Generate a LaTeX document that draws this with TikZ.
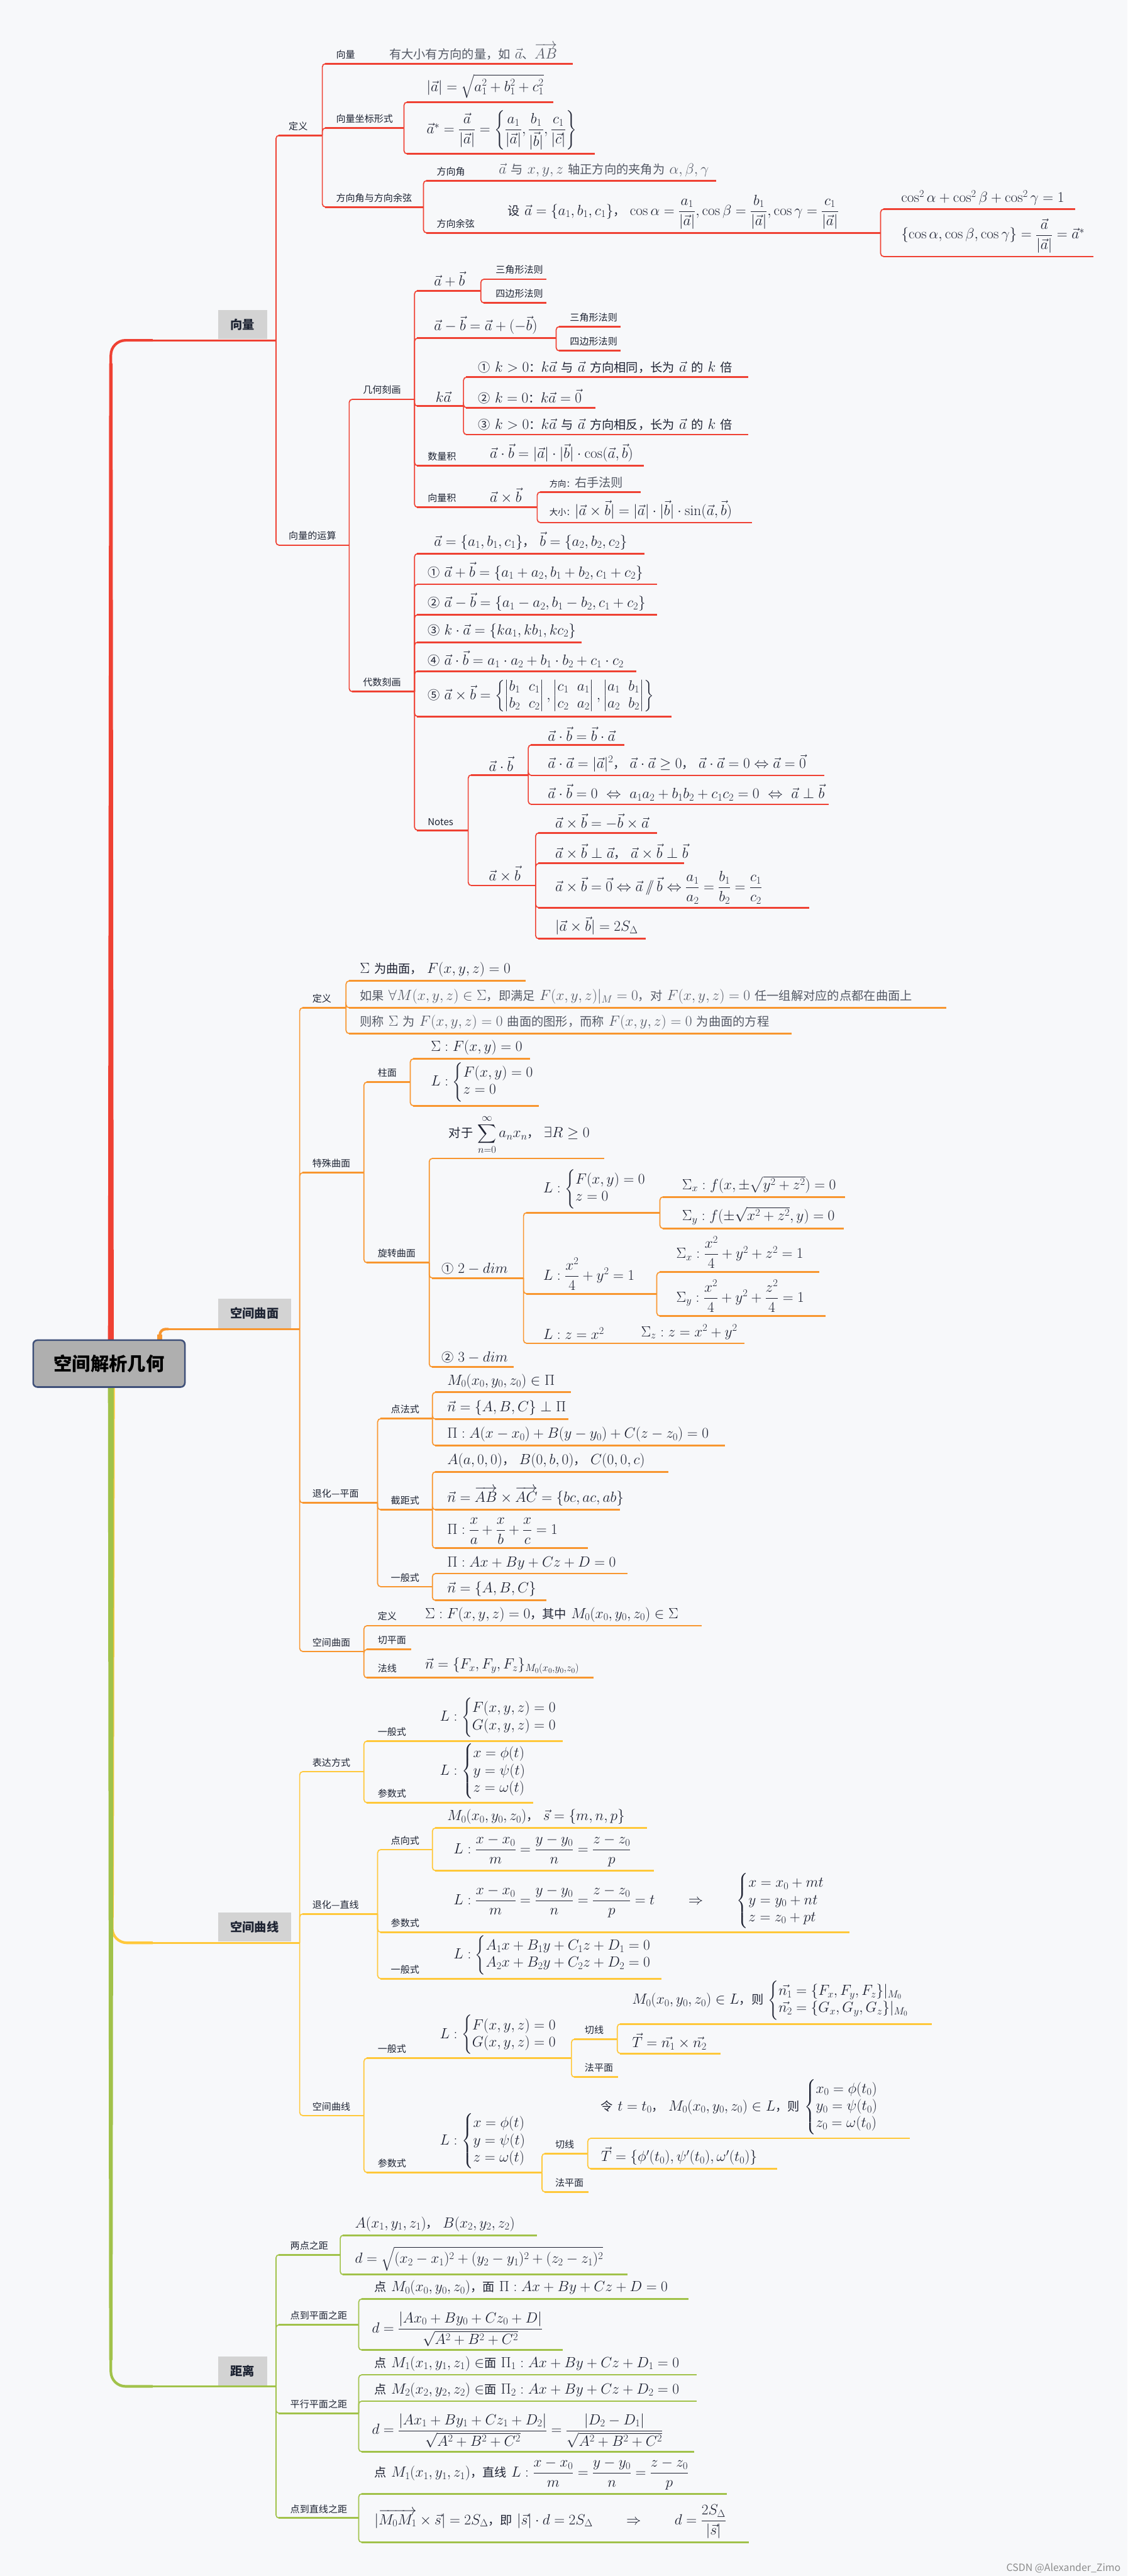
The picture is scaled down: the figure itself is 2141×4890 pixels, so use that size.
\RequirePackage{fix-cm}
\documentclass[tikz,border=0pt]{standalone}
\usepackage{amsmath}
\usepackage{fontspec}
\newfontfamily\cjk{Noto Sans CJK SC}
\definecolor{bg}{HTML}{F7F8FA}
\definecolor{cR}{HTML}{EF4133}
\definecolor{cO}{HTML}{F8962F}
\definecolor{cY}{HTML}{FFC83A}
\definecolor{cG}{HTML}{A1C24A}
\definecolor{boxg}{HTML}{D3D3D3}
\definecolor{rootg}{HTML}{AFAFAF}
\definecolor{rootb}{HTML}{3F5079}
\definecolor{labc}{HTML}{1E2433}
\definecolor{txtc}{HTML}{1F2333}
\definecolor{gtxt}{HTML}{555A66}
\colorlet{brc}{cR}
\newcommand\zh[1]{{\cjk\fontsize{23}{28}\selectfont #1}}
\newcommand\zs[1]{{\cjk\fontsize{16}{20}\selectfont #1}}
\tikzset{
  bus/.style={line width=2pt, draw=brc, rounded corners=6pt},
  ul/.style={line width=3.4pt, draw=brc},
  lab/.style={inner sep=0pt, font=\cjk\fontsize{18}{22}\selectfont, text=labc},
  txt/.style={inner sep=0pt, font=\fontsize{28}{27}\selectfont, text=txtc},
  txtg/.style={txt, text=gtxt},
  mbox/.style={fill=boxg, inner sep=0pt, font=\cjk\bfseries\fontsize{23}{28}\selectfont, text=labc},
  rootbox/.style={fill=rootg, draw=rootb, line width=3pt, rounded corners=8pt, inner sep=0pt,
     minimum width=288pt, minimum height=89pt, font=\cjk\bfseries\fontsize{35}{40}\selectfont, text=black},
  mainl/.style={line width=3.6pt},
}
\newcommand\IT[5]{\coordinate (#1) at (#5,#4);\draw[bus] (#2) |- (#3+8,#4);\draw[ul] (#3+5,#4) -- (#1);}
\newcommand\LB[4]{\node[lab,anchor=south west] (#1) at (#2,#3-9) {#4};}
\newcommand\TX[4]{\node[txt,anchor=south west] (#1) at (#2,#3-7) {#4};}
\newcommand\TXg[4]{\node[txtg,anchor=south west] (#1) at (#2,#3-7) {#4};}
% tapered vertical: color, x, y1, w1, y2, w2
\newcommand\TAPER[6]{\fill[#1] (#2-#4/2,#3) -- (#2+#4/2,#3) -- (#2+#6/2,#5) -- (#2-#6/2,#5) -- cycle;}
\begin{document}
\begin{tikzpicture}[x=1pt,y=-1pt]
\fill[bg] (0,0) rectangle (2141,4890);
\useasboundingbox (0,0) rectangle (2141,4890);
\coordinate (rc) at (207,2588.5);
\coordinate (v) at (524,646);
\coordinate (s) at (569,2523);
\coordinate (c) at (569,3688);
\coordinate (j) at (524,4530);
% trunks
\TAPER{cR}{210.5}{2550}{11}{690}{6.5}
\draw[line width=5pt,draw=cR,rounded corners=28pt] (210.5,700) |- (290,646);
\draw[mainl,draw=cR] (285,646) -- (v);
\TAPER{cY}{213}{2630}{10}{3640}{6}
\draw[line width=5pt,draw=cY,rounded corners=28pt] (213,3630) |- (290,3688);
\draw[mainl,draw=cY] (285,3688) -- (c);
\TAPER{cG}{210.5}{2630}{11}{4480}{6.5}
\draw[line width=5pt,draw=cG,rounded corners=28pt] (210.5,4470) |- (290,4530);
\draw[mainl,draw=cG] (285,4530) -- (j);
\draw[line width=10pt,draw=cO] (303.5,2548) -- (303.5,2533);
\draw[line width=5pt,draw=cO,rounded corners=11pt] (303.5,2536) |- (320,2523);
\draw[mainl,draw=cO] (318,2523) -- (s);
\node[rootbox] (root) at (rc) {空间解析几何};

% ================= 向量 =================
\begin{scope}
\colorlet{brc}{cR}
\node[mbox, minimum width=93pt, minimum height=55pt, anchor=south west] (vb) at (414,644) {向量};
\IT{d1}{v}{524}{257}{612}\LB{d1t}{548}{257}{定义}
\IT{d1a}{d1}{612}{121}{1087}\LB{d1at}{638}{121}{向量}
\TXg{d1ac}{739}{121}{\zh{有大小有方向的量，如} $\vec a$\zh{、}$\overrightarrow{AB}$}
\IT{d1b}{d1}{612}{243}{767}\LB{d1bt}{638}{243}{向量坐标形式}
\IT{d1b1}{d1b}{767}{194}{1050}\TX{d1b1t}{810}{194}{$|\vec a|=\sqrt{a_1^2+b_1^2+c_1^2}$}
\IT{d1b2}{d1b}{767}{292}{1129}\TX{d1b2t}{810}{292}{$\vec a^{*}=\dfrac{\vec a}{|\vec a|}=\left\{\dfrac{a_1}{|\vec a|},\dfrac{b_1}{|\vec b|},\dfrac{c_1}{|\vec c|}\right\}$}
\IT{d1c}{d1}{612}{393}{804}\LB{d1ct}{638}{393}{方向角与方向余弦}
\IT{d1c1}{d1c}{804}{343}{1360}\LB{d1c1t}{829}{343}{方向角}
\TXg{d1c1c}{947}{343}{$\vec a$ \zh{与} $x,y,z$ \zh{轴正方向的夹角为} $\alpha,\beta,\gamma$}
\IT{d1c2}{d1c}{804}{442}{1672}\LB{d1c2t}{829}{442}{方向余弦}
\TX{d1c2c}{964}{442}{\zh{设} $\vec a=\{a_1,b_1,c_1\}$\zh{，} $\cos\alpha=\dfrac{a_1}{|\vec a|},\cos\beta=\dfrac{b_1}{|\vec a|},\cos\gamma=\dfrac{c_1}{|\vec a|}$}
\IT{d1c2a}{d1c2}{1672}{397}{2042}\TX{d1c2at}{1711}{397}{$\cos^2\alpha+\cos^2\beta+\cos^2\gamma=1$}
\IT{d1c2b}{d1c2}{1672}{487}{2076}\TX{d1c2bt}{1711}{487}{$\{\cos\alpha,\cos\beta,\cos\gamma\}=\dfrac{\vec a}{|\vec a|}=\vec a^{*}$}
\IT{d2}{v}{524}{1035}{663}\LB{d2t}{548}{1035}{向量的运算}
\IT{g}{d2}{663}{758}{787}\LB{gt}{689}{758}{几何刻画}
\IT{g1}{g}{787}{552}{913}\TX{g1t}{824}{552}{$\vec a+\vec b$}
\IT{g1a}{g1}{913}{530}{1037}\LB{g1at}{941}{530}{三角形法则}
\IT{g1b}{g1}{913}{575}{1037}\LB{g1bt}{941}{575}{四边形法则}
\IT{g2}{g}{787}{642}{1056}\TX{g2t}{824}{642}{$\vec a-\vec b=\vec a+(-\vec b)$}
\IT{g2a}{g2}{1056}{620}{1178}\LB{g2at}{1082}{620}{三角形法则}
\IT{g2b}{g2}{1056}{666}{1178}\LB{g2bt}{1082}{666}{四边形法则}
\IT{g3}{g}{787}{771}{880}\TX{g3t}{827}{771}{$k\vec a$}
\IT{g3a}{g3}{880}{716}{1421}\TX{g3at}{908}{716}{\zh{①} $k>0$\zh{：}$k\vec a$ \zh{与} $\vec a$ \zh{方向相同，长为} $\vec a$ \zh{的} $k$ \zh{倍}}
\IT{g3b}{g3}{880}{774}{1130}\TX{g3bt}{908}{774}{\zh{②} $k=0$\zh{：}$k\vec a=\vec 0$}
\IT{g3c}{g3}{880}{825}{1421}\TX{g3ct}{908}{825}{\zh{③} $k>0$\zh{：}$k\vec a$ \zh{与} $\vec a$ \zh{方向相反，长为} $\vec a$ \zh{的} $k$ \zh{倍}}
\IT{g4}{g}{787}{884}{1222}\LB{g4t}{812}{884}{数量积}
\TX{g4c}{930}{884}{$\vec a\cdot\vec b=|\vec a|\cdot|\vec b|\cdot\cos(\vec a,\vec b)$}
\IT{g5}{g}{787}{963}{1020}\LB{g5t}{812}{963}{向量积}\TX{g5c}{930}{963}{$\vec a\times\vec b$}
\IT{g5a}{g5}{1020}{934}{1217}\TX{g5at}{1043}{934}{\zs{方向：}\zh{\color{gtxt}右手法则}}
\IT{g5b}{g5}{1020}{992}{1428}\TX{g5bt}{1043}{992}{\zs{大小：}$|\vec a\times\vec b|=|\vec a|\cdot|\vec b|\cdot\sin(\vec a,\vec b)$}
\IT{a}{d2}{663}{1313}{787}\LB{at}{689}{1313}{代数刻画}
\IT{a0}{a}{787}{1051}{1224}\TX{a0t}{824}{1051}{$\vec a=\{a_1,b_1,c_1\}$\zh{，} $\vec b=\{a_2,b_2,c_2\}$}
\IT{a1}{a}{787}{1109}{1248}\TX{a1t}{812}{1109}{\zh{①} $\vec a+\vec b=\{a_1+a_2,b_1+b_2,c_1+c_2\}$}
\IT{a2}{a}{787}{1167}{1248}\TX{a2t}{812}{1167}{\zh{②} $\vec a-\vec b=\{a_1-a_2,b_1-b_2,c_1+c_2\}$}
\IT{a3}{a}{787}{1219}{1104}\TX{a3t}{812}{1219}{\zh{③} $k\cdot\vec a=\{ka_1,kb_1,kc_2\}$}
\IT{a4}{a}{787}{1274}{1208}\TX{a4t}{812}{1274}{\zh{④} $\vec a\cdot\vec b=a_1\cdot a_2+b_1\cdot b_2+c_1\cdot c_2$}
\IT{a5}{a}{787}{1360}{1275}\TX{a5t}{812}{1360}{\zh{⑤} $\def\arraystretch{1.18}\setlength\arraycolsep{8pt}\vec a\times\vec b=\left\{\begin{vmatrix}b_1&c_1\\ b_2&c_2\end{vmatrix},\begin{vmatrix}c_1&a_1\\ c_2&a_2\end{vmatrix},\begin{vmatrix}a_1&b_1\\ a_2&b_2\end{vmatrix}\right\}$}
\IT{nt}{a}{787}{1576}{889}\LB{ntt}{812}{1576}{Notes}
\IT{n1}{nt}{889}{1471}{1003}\TX{n1t}{928}{1471}{$\vec a\cdot\vec b$}
\IT{n1a}{n1}{1003}{1414}{1185}\TX{n1at}{1040}{1414}{$\vec a\cdot\vec b=\vec b\cdot\vec a$}
\IT{n1b}{n1}{1003}{1472}{1565}\TX{n1bt}{1040}{1472}{$\vec a\cdot\vec a=|\vec a|^2$\zh{，} $\vec a\cdot\vec a\ge 0$\zh{，} $\vec a\cdot\vec a=0\Leftrightarrow\vec a=\vec 0$}
\IT{n1c}{n1}{1003}{1527}{1574}\TX{n1ct}{1040}{1527}{$\vec a\cdot\vec b=0\ \Leftrightarrow\ a_1a_2+b_1b_2+c_1c_2=0\ \Leftrightarrow\ \vec a\perp\vec b$}
\IT{n2}{nt}{889}{1681}{1017}\TX{n2t}{928}{1681}{$\vec a\times\vec b$}
\IT{n2a}{n2}{1017}{1581}{1247}\TX{n2at}{1054}{1581}{$\vec a\times\vec b=-\vec b\times\vec a$}
\IT{n2b}{n2}{1017}{1639}{1299}\TX{n2bt}{1054}{1639}{$\vec a\times\vec b\perp\vec a$\zh{，} $\vec a\times\vec b\perp\vec b$}
\IT{n2c}{n2}{1017}{1723}{1537}\TX{n2ct}{1054}{1723}{$\vec a\times\vec b=\vec 0\Leftrightarrow\vec a\,/\!\!/\,\vec b\Leftrightarrow\dfrac{a_1}{a_2}=\dfrac{b_1}{b_2}=\dfrac{c_1}{c_2}$}
\IT{n2d}{n2}{1017}{1782}{1226}\TX{n2dt}{1054}{1782}{$|\vec a\times\vec b|=2S_\Delta$}
\end{scope}

% ================= 空间曲面 =================
\begin{scope}
\colorlet{brc}{cO}
\node[mbox, minimum width=138pt, minimum height=55pt, anchor=south west] (sb) at (414,2521) {空间曲面};
\IT{s1}{s}{569}{1913}{657}\LB{s1t}{593}{1913}{定义}
\IT{s1a}{s1}{657}{1862}{998}\TX{s1at}{683}{1862}{$\Sigma$ \zh{为曲面，} $F(x,y,z)=0$}
\IT{s1b}{s1}{657}{1913}{1797}\TXg{s1bt}{683}{1913}{\zh{如果} $\forall M(x,y,z)\in\Sigma$\zh{，即满足} $F(x,y,z)|_M=0$\zh{，对} $F(x,y,z)=0$ \zh{任一组解对应的点都在曲面上}}
\IT{s1c}{s1}{657}{1962}{1503}\TXg{s1ct}{683}{1962}{\zh{则称} $\Sigma$ \zh{为} $F(x,y,z)=0$ \zh{曲面的图形，而称} $F(x,y,z)=0$ \zh{为曲面的方程}}
\IT{s2}{s}{569}{2226}{691}\LB{s2t}{593}{2226}{特殊曲面}
\IT{s21}{s2}{691}{2054}{779}\LB{s21t}{717}{2054}{柱面}
\IT{s21a}{s21}{779}{2010}{1006}\TX{s21at}{818}{2010}{$\Sigma: F(x,y)=0$}
\IT{s21b}{s21}{779}{2099}{1023}\TX{s21bt}{818}{2099}{$L:\begin{cases}F(x,y)=0\\ z=0\end{cases}$}
\IT{s22}{s2}{691}{2397}{815}\LB{s22t}{717}{2397}{旋转曲面}
\IT{s22a}{s22}{815}{2199}{1147}\TX{s22at}{852}{2199}{\zh{对于} $\displaystyle\sum_{n=0}^{\infty}a_nx_n$\zh{，} $\exists R\ge 0$}
\IT{s22b}{s22}{815}{2426}{994}\TX{s22bt}{838}{2426}{\zh{①} $2-dim$}
\IT{s22b1}{s22b}{994}{2302}{1253}\TX{s22b1t}{1031}{2302}{$L:\begin{cases}F(x,y)=0\\ z=0\end{cases}$}
\IT{s22b1a}{s22b1}{1253}{2272}{1604}\TX{s22b1at}{1295}{2272}{$\Sigma_x: f(x,\pm\sqrt{y^2+z^2})=0$}
\IT{s22b1b}{s22b1}{1253}{2332}{1602}\TX{s22b1bt}{1295}{2332}{$\Sigma_y: f(\pm\sqrt{x^2+z^2},y)=0$}
\IT{s22b2}{s22b}{994}{2456}{1247}\TX{s22b2t}{1031}{2456}{$L:\dfrac{x^2}{4}+y^2=1$}
\IT{s22b2a}{s22b2}{1247}{2415}{1556}\TX{s22b2at}{1284}{2415}{$\Sigma_x:\dfrac{x^2}{4}+y^2+z^2=1$}
\IT{s22b2b}{s22b2}{1247}{2498}{1567}\TX{s22b2bt}{1284}{2498}{$\Sigma_y:\dfrac{x^2}{4}+y^2+\dfrac{z^2}{4}=1$}
\IT{s22b3}{s22b}{994}{2550}{1414}\TX{s22b3t}{1031}{2550}{$L:z=x^2$}\TX{s22b3c}{1217}{2550}{$\Sigma_z: z=x^2+y^2$}
\IT{s22c}{s22}{815}{2595}{975}\TX{s22ct}{838}{2595}{\zh{②} $3-dim$}
\IT{s3}{s}{569}{2853}{717}\LB{s3t}{593}{2853}{退化—平面}
\IT{s31}{s3}{717}{2693}{821}\LB{s31t}{742}{2693}{点法式}
\IT{s31a}{s31}{821}{2643}{1084}\TX{s31at}{849}{2643}{$M_0(x_0,y_0,z_0)\in\Pi$}
\IT{s31b}{s31}{821}{2694}{1079}\TX{s31bt}{849}{2694}{$\vec n=\{A,B,C\}\perp\Pi$}
\IT{s31c}{s31}{821}{2744}{1376}\TX{s31ct}{849}{2744}{$\Pi: A(x-x_0)+B(y-y_0)+C(z-z_0)=0$}
\IT{s32}{s3}{717}{2866}{821}\LB{s32t}{742}{2866}{截距式}
\IT{s32a}{s32}{821}{2794}{1269}\TX{s32at}{849}{2794}{$A(a,0,0)$\zh{，} $B(0,b,0)$\zh{，} $C(0,0,c)$}
\IT{s32b}{s32}{821}{2866}{1177}\TX{s32bt}{849}{2866}{$\vec n=\overrightarrow{AB}\times\overrightarrow{AC}=\{bc,ac,ab\}$}
\IT{s32c}{s32}{821}{2939}{1116}\TX{s32ct}{849}{2939}{$\Pi:\dfrac{x}{a}+\dfrac{x}{b}+\dfrac{x}{c}=1$}
\IT{s33}{s3}{717}{3012}{821}\LB{s33t}{742}{3012}{一般式}
\IT{s33a}{s33}{821}{2987}{1192}\TX{s33at}{849}{2987}{$\Pi: Ax+By+Cz+D=0$}
\IT{s33b}{s33}{821}{3038}{1037}\TX{s33bt}{849}{3038}{$\vec n=\{A,B,C\}$}
\IT{s4}{s}{569}{3135}{691}\LB{s4t}{593}{3135}{空间曲面}
\IT{s41}{s4}{691}{3086}{1332}\LB{s41t}{717}{3086}{定义}\TX{s41c}{807}{3086}{$\Sigma: F(x,y,z)=0$\zh{，其中} $M_0(x_0,y_0,z_0)\in\Sigma$}
\IT{s42}{s4}{691}{3131}{781}\LB{s42t}{717}{3131}{切平面}
\IT{s43}{s4}{691}{3185}{1127}\LB{s43t}{717}{3185}{法线}\TX{s43c}{807}{3185}{$\vec n=\{F_x,F_y,F_z\}_{M_0(x_0,y_0,z_0)}$}
\end{scope}

% ================= 空间曲线 =================
\begin{scope}
\colorlet{brc}{cY}
\node[mbox, minimum width=138pt, minimum height=55pt, anchor=south west] (cb) at (414,3686) {空间曲线};
\IT{c1}{c}{569}{3363}{691}\LB{c1t}{593}{3363}{表达方式}
\IT{c11}{c1}{691}{3305}{1068}\LB{c11t}{717}{3305}{一般式}\TX{c11c}{835}{3305}{$L:\begin{cases}F(x,y,z)=0\\ G(x,y,z)=0\end{cases}$}
\IT{c12}{c1}{691}{3422}{1012}\LB{c12t}{717}{3422}{参数式}\TX{c12c}{835}{3422}{$L:\begin{cases}x=\phi(t)\\ y=\psi(t)\\ z=\omega(t)\end{cases}$}
\IT{c2}{c}{569}{3633}{717}\LB{c2t}{593}{3633}{退化—直线}
\IT{c21}{c2}{717}{3511}{821}\LB{c21t}{742}{3511}{点向式}
\IT{c21a}{c21}{821}{3470}{1228}\TX{c21at}{849}{3470}{$M_0(x_0,y_0,z_0)$\zh{，} $\vec s=\{m,n,p\}$}
\IT{c21b}{c21}{821}{3551}{1241}\TX{c21bt}{861}{3551}{$L:\dfrac{x-x_0}{m}=\dfrac{y-y_0}{n}=\dfrac{z-z_0}{p}$}
\IT{c22}{c2}{717}{3668}{1613}\LB{c22t}{742}{3668}{参数式}\TX{c22c}{861}{3668}{$L:\dfrac{x-x_0}{m}=\dfrac{y-y_0}{n}=\dfrac{z-z_0}{p}=t\qquad\Rightarrow\qquad\begin{cases}x=x_0+mt\\ y=y_0+nt\\ z=z_0+pt\end{cases}$}
\IT{c23}{c2}{717}{3756}{1256}\LB{c23t}{742}{3756}{一般式}\TX{c23c}{861}{3756}{$L:\begin{cases}A_1x+B_1y+C_1z+D_1=0\\ A_2x+B_2y+C_2z+D_2=0\end{cases}$}
\IT{c3}{c}{569}{4016}{691}\LB{c3t}{593}{4016}{空间曲线}
\IT{c31}{c3}{691}{3907}{1085}\LB{c31t}{717}{3907}{一般式}\TX{c31c}{835}{3907}{$L:\begin{cases}F(x,y,z)=0\\ G(x,y,z)=0\end{cases}$}
\IT{c311}{c31}{1085}{3871}{1172}\LB{c311t}{1110}{3871}{切线}
\IT{c311a}{c311}{1172}{3842}{1769}\TX{c311at}{1200}{3842}{$M_0(x_0,y_0,z_0)\in L$\zh{，则} $\begin{cases}\vec{n_1}=\{F_x,F_y,F_z\}|_{M_0}\\ \vec{n_2}=\{G_x,G_y,G_z\}|_{M_0}\end{cases}$}
\IT{c311b}{c311}{1172}{3898}{1368}\TX{c311bt}{1200}{3898}{$\vec T=\vec{n_1}\times\vec{n_2}$}
\IT{c312}{c31}{1085}{3943}{1174}\LB{c312t}{1110}{3943}{法平面}
\IT{c32}{c3}{691}{4124}{1029}\LB{c32t}{717}{4124}{参数式}\TX{c32c}{835}{4124}{$L:\begin{cases}x=\phi(t)\\ y=\psi(t)\\ z=\omega(t)\end{cases}$}
\IT{c321}{c32}{1029}{4088}{1116}\LB{c321t}{1054}{4088}{切线}
\IT{c321a}{c321}{1116}{4059}{1728}\TX{c321at}{1141}{4059}{\zh{令} $t=t_0$\zh{，} $M_0(x_0,y_0,z_0)\in L$\zh{，则} $\begin{cases}x_0=\phi(t_0)\\ y_0=\psi(t_0)\\ z_0=\omega(t_0)\end{cases}$}
\IT{c321b}{c321}{1116}{4117}{1475}\TX{c321bt}{1141}{4117}{$\vec T=\{\phi'(t_0),\psi'(t_0),\omega'(t_0)\}$}
\IT{c322}{c32}{1029}{4161}{1118}\LB{c322t}{1054}{4161}{法平面}
\end{scope}

% ================= 距离 =================
\begin{scope}
\colorlet{brc}{cG}
\node[mbox, minimum width=93pt, minimum height=55pt, anchor=south west] (jb) at (414,4528) {距离};
\IT{j1}{j}{524}{4280}{646}\LB{j1t}{551}{4280}{两点之距}
\IT{j1a}{j1}{646}{4243}{1020}\TX{j1at}{674}{4243}{$A(x_1,y_1,z_1)$\zh{，} $B(x_2,y_2,z_2)$}
\IT{j1b}{j1}{646}{4318}{1192}\TX{j1bt}{674}{4318}{$d=\sqrt{(x_2-x_1)^2+(y_2-y_1)^2+(z_2-z_1)^2}$}
\IT{j2}{j}{524}{4413}{681}\LB{j2t}{551}{4413}{点到平面之距}
\IT{j2a}{j2}{681}{4364}{1307}\TX{j2at}{711}{4364}{\zh{点} $M_0(x_0,y_0,z_0)$\zh{，面} $\Pi: Ax+By+Cz+D=0$}
\IT{j2b}{j2}{681}{4461}{1068}\TX{j2bt}{706}{4461}{$d=\dfrac{|Ax_0+By_0+Cz_0+D|}{\sqrt{A^2+B^2+C^2}}$}
\IT{j3}{j}{524}{4581}{681}\LB{j3t}{551}{4581}{平行平面之距}
\IT{j3a}{j3}{681}{4508}{1323}\TX{j3at}{711}{4508}{\zh{点} $M_1(x_1,y_1,z_1)\in$\zh{面} $\Pi_1: Ax+By+Cz+D_1=0$}
\IT{j3b}{j3}{681}{4558}{1323}\TX{j3bt}{711}{4558}{\zh{点} $M_2(x_2,y_2,z_2)\in$\zh{面} $\Pi_2: Ax+By+Cz+D_2=0$}
\IT{j3c}{j3}{681}{4654}{1318}\TX{j3ct}{706}{4654}{$d=\dfrac{|Ax_1+By_1+Cz_1+D_2|}{\sqrt{A^2+B^2+C^2}}=\dfrac{|D_2-D_1|}{\sqrt{A^2+B^2+C^2}}$}
\IT{j4}{j}{524}{4780}{681}\LB{j4t}{551}{4780}{点到直线之距}
\IT{j4a}{j4}{681}{4734}{1380}\TX{j4at}{711}{4734}{\zh{点} $M_1(x_1,y_1,z_1)$\zh{，直线} $L:\dfrac{x-x_0}{m}=\dfrac{y-y_0}{n}=\dfrac{z-z_0}{p}$}
\IT{j4b}{j4}{681}{4826}{1422}\TX{j4bt}{711}{4826}{$|\overrightarrow{M_0M_1}\times\vec s|=2S_\Delta$\zh{，即} $|\vec s|\cdot d=2S_\Delta\qquad\Rightarrow\qquad d=\dfrac{2S_\Delta}{|\vec s|}$}
\end{scope}

\node[anchor=south east, inner sep=0pt, font=\cjk\fontsize{19}{22}\selectfont, text=black!45] (wm) at (2128,4884) {CSDN @Alexander\_Zimo};
\end{tikzpicture}
\end{document}
